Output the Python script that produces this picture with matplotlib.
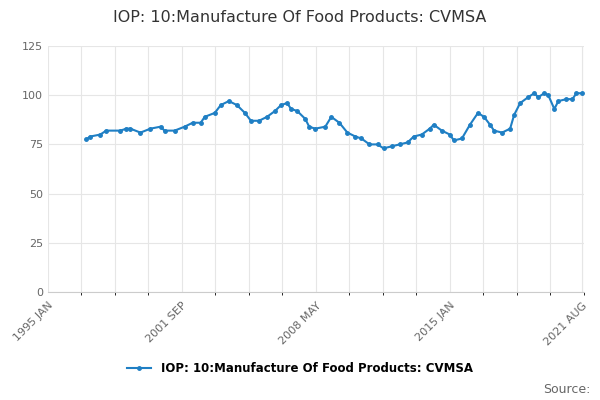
import matplotlib.pyplot as plt
import numpy as np

# decimal years and index values
years = [1996.9, 1997.1, 1997.6, 1997.9, 1998.6, 1998.9, 1999.1, 1999.6, 2000.1, 2000.6, 2000.8,
         2001.3, 2001.8, 2002.2, 2002.6, 2002.8, 2003.3, 2003.6, 2004.0, 2004.4, 2004.8,
         2005.1, 2005.5, 2005.9, 2006.3, 2006.6, 2006.9, 2007.1, 2007.4, 2007.8, 2008.0,
         2008.3, 2008.8, 2009.1, 2009.5, 2009.9, 2010.3, 2010.6, 2011.0, 2011.4, 2011.7,
         2012.1, 2012.5, 2012.9, 2013.2, 2013.6, 2014.0, 2014.2, 2014.6, 2015.0, 2015.2,
         2015.6, 2016.0, 2016.4, 2016.7, 2017.0, 2017.2, 2017.6, 2018.0, 2018.2, 2018.5,
         2018.9, 2019.2, 2019.4, 2019.7, 2019.9, 2020.2, 2020.4, 2020.8, 2021.1, 2021.3, 2021.6]
values = [77.5, 79, 80, 82, 82, 83, 83, 81, 83, 84, 82,
          82, 84, 86, 86, 89, 91, 95, 97, 95, 91,
          87, 87, 89, 92, 95, 96, 93, 92, 88, 84,
          83, 84, 89, 86, 81, 79, 78, 75, 75, 73,
          74, 75, 76, 79, 80, 83, 85, 82, 80, 77,
          78, 85, 91, 89, 85, 82, 81, 83, 90, 96,
          99, 101, 99, 101, 100, 93, 97, 98, 98, 101, 101]

tick_pos = [1995.0, 2001 + 8 / 12, 2008 + 4 / 12, 2015.0, 2021 + 7 / 12]
tick_labels = ['1995 JAN', '2001 SEP', '2008 MAY', '2015 JAN', '2021 AUG']
series_name = 'IOP: 10:Manufacture Of Food Products: CVMSA'

fig = plt.figure(figsize=(6, 4), dpi=100)
ax = fig.add_axes([0.08, 0.27, 0.893, 0.615])
color = '#1f7fc4'
ax.plot(years, values, color=color, lw=1.5, marker='o', ms=2.5, label=series_name)

ax.set_xlim(1995.0, 2021 + 7 / 12)
ax.set_ylim(0, 125)
ax.set_yticks(np.arange(0, 126, 25))
ax.set_xticks(tick_pos)
ax.set_xticklabels(tick_labels, rotation=45, ha='right', rotation_mode='anchor')
ax.set_xticks(np.arange(1995.0, 2022, 20 / 12), minor=True)
ax.grid(axis='y', color='#e6e6e6', lw=0.8)
ax.grid(axis='x', which='both', color='#e6e6e6', lw=0.8)
ax.tick_params(colors='#666666', labelsize=8, length=0)
ax.tick_params(axis='x', pad=6)
for s in ['top', 'right', 'left']:
    ax.spines[s].set_visible(False)
ax.spines['bottom'].set_color('#cccccc')

fig.suptitle(series_name, y=0.975, fontsize=11.5, color='#333333')
fig.legend(loc='lower center', bbox_to_anchor=(0.5, 0.035), frameon=False,
           prop={'weight': 'bold', 'size': 8.5})
fig.text(0.985, 0.01, 'Source:', ha='right', va='bottom', fontsize=9, color='#666666')

fig.savefig('out.png', dpi=100)
